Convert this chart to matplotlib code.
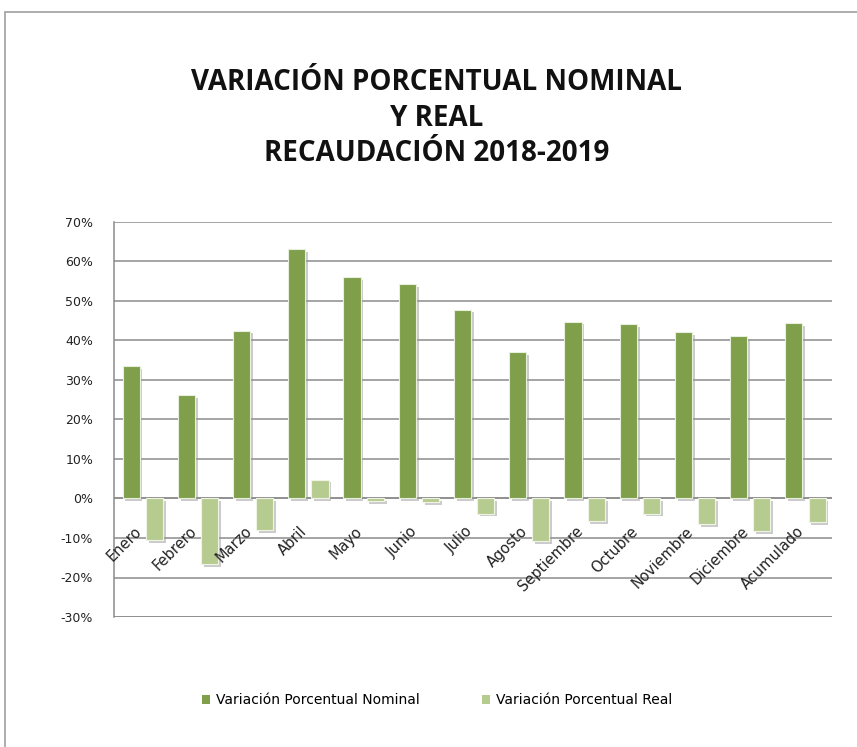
import matplotlib
matplotlib.use("Agg")
import matplotlib.pyplot as plt
import matplotlib.patheffects as pe
from matplotlib.patches import Rectangle, Patch
import numpy as np

categories = ["Enero", "Febrero", "Marzo", "Abril", "Mayo", "Junio", "Julio",
              "Agosto", "Septiembre", "Octubre", "Noviembre", "Diciembre", "Acumulado"]
nominal = [33.5, 26.1, 42.5, 63.2, 56.1, 54.2, 47.8, 37.1, 44.8, 44.1, 42.1, 41.1, 44.4]
real = [-10.5, -16.7, -8.1, 4.8, -0.6, -0.9, -3.8, -10.8, -5.7, -3.8, -6.4, -8.3, -5.9]
yticks = [-30, -20, -10, 0, 10, 20, 30, 40, 50, 60, 70]
title = "VARIACIÓN PORCENTUAL NOMINAL\nY REAL\nRECAUDACIÓN 2018-2019"
series_names = ["Variación Porcentual Nominal", "Variación Porcentual Real"]

c_nom = "#7f9f4b"
c_real = "#b6cb90"

fig = plt.figure(figsize=(8.57, 7.47), dpi=100)
fig.patch.set_facecolor("white")
fig.add_artist(Rectangle((5 / 857, -0.1), 1.2, 1 - 12 / 747 + 0.1, transform=fig.transFigure,
                         fill=False, edgecolor="#a0a0a0", linewidth=1.2))

ax = fig.add_axes([114 / 857, 1 - 617 / 747, (832 - 114) / 857, (617 - 222) / 747])
x = np.arange(len(categories))
w = 0.31
shadow = [pe.SimplePatchShadow(offset=(2, -2), shadow_rgbFace="#999999", alpha=0.5), pe.Normal()]
b1 = ax.bar(x - 0.19, nominal, w, color=c_nom, edgecolor="#e8efdc", linewidth=0.8, zorder=3)
b2 = ax.bar(x + 0.23, real, w, color=c_real, edgecolor="#eef3e4", linewidth=0.8, zorder=3)
for b in list(b1) + list(b2):
    b.set_path_effects(shadow)

ax.set_xlim(-0.5, len(categories) - 0.5)
ax.set_ylim(-30, 70)
ax.set_yticks(yticks)
ax.set_yticklabels([f"{v}%" for v in yticks], fontsize=9, color="#222222")
ax.yaxis.grid(True, color="#8c8c8c", linewidth=1.1, zorder=0)
ax.set_axisbelow(True)
for s in ["top", "right", "bottom"]:
    ax.spines[s].set_visible(False)
ax.spines["left"].set_color("#8c8c8c")
ax.spines["left"].set_linewidth(1.1)
ax.axhline(0, color="#8c8c8c", linewidth=1.1, zorder=2)
ax.axhline(-30, color="#8c8c8c", linewidth=1.1, zorder=1)
ax.tick_params(axis="y", length=0, pad=15)
ax.set_xticks([])

for i, name in enumerate(categories):
    ax.annotate(name, xy=(x[i], 0), xytext=(-2, -22), textcoords="offset points",
                rotation=45, ha="right", va="center", rotation_mode="anchor",
                fontsize=10.5, color="#222222", zorder=6, annotation_clip=False)

fig.text(437 / 857, 1 - 118 / 747, title, ha="center", va="center", fontsize=20,
         fontweight="bold", family="Open Sans", linespacing=1.3, color="#111111")

handles = [Patch(facecolor=c_nom, edgecolor="none"), Patch(facecolor=c_real, edgecolor="none")]
fig.legend(handles, series_names, loc="center", bbox_to_anchor=(437 / 857, 1 - 700 / 747),
           ncol=2, frameon=False, fontsize=10, handlelength=0.6, handleheight=0.6,
           handletextpad=0.4, columnspacing=4.5)

fig.savefig("out.png", dpi=100, facecolor="white")
